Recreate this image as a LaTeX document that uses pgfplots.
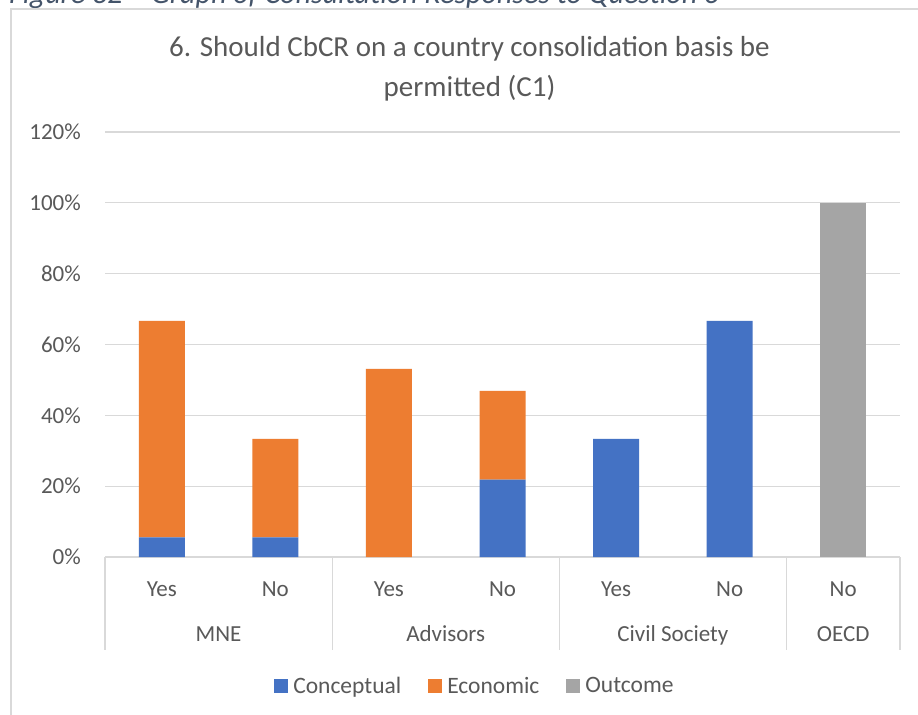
\documentclass[border=0pt]{standalone}
\usepackage{pgfplots}
\usepackage{pgfplotstable}
\pgfplotsset{compat=1.18}
\usepackage{fontspec}
\setmainfont{Carlito}

\definecolor{conc}{HTML}{4472C4}
\definecolor{econ}{HTML}{ED7D31}
\definecolor{outc}{HTML}{A5A5A5}
\definecolor{txt}{HTML}{595959}
\definecolor{gridc}{HTML}{D9D9D9}
\definecolor{capt}{HTML}{44546A}

% share of responses (%) per respondent group and answer
\pgfplotstableread{
x conc econ outc
0 5.56 61.11 0
1 5.56 27.78 0
2 0 53.13 0
3 21.88 25.00 0
4 33.33 0 0
5 66.67 0 0
6 0 0 100
}\responses

\pgfplotsset{sqlegend/.style={legend image code/.code={\path[##1,draw=none] (0bp,-7bp) rectangle (14bp,7bp);}}}

\begin{document}
\begin{tikzpicture}
\useasboundingbox (0,0) rectangle (918bp,715bp);
\clip (0,0) rectangle (918bp,715bp);
\fill[white] (0,0) rectangle (918bp,715bp);
% figure caption
\node[anchor=base west, inner sep=0pt, font=\fontsize{30bp}{35bp}\selectfont\itshape, text=capt]
  at (9bp,711bp) {Figure 32 – Graph of Consultation Responses to Question 6};
% chart frame
\fill[white] (11bp,-10bp) rectangle (960bp,706bp);
\draw[gridc, line width=1.2bp] (11bp,-10bp) -- (11bp,706bp) -- (960bp,706bp);
% chart title
\node[anchor=base, inner sep=0pt, font=\fontsize{29bp}{34bp}\selectfont, text=txt]
  at (469.5bp,658bp) {6. Should CbCR on a country consolidation basis be};
\node[anchor=base, inner sep=0pt, font=\fontsize{29bp}{34bp}\selectfont, text=txt]
  at (469.5bp,618bp) {permitted (C1)};

\begin{axis}[
  at={(105bp,158bp)}, anchor=south west,
  scale only axis, width=795bp, height=425bp,
  ybar stacked, bar width=0.405,
  xmin=-0.5, xmax=6.5, ymin=0, ymax=120,
  xtick={0,...,6}, xticklabels={Yes,No,Yes,No,Yes,No,No},
  ytick={0,20,...,120},
  /pgf/number format/assume math mode=true,
  yticklabel={\pgfmathprintnumber{\tick}\%},
  ymajorgrids, grid style={draw=gridc, line width=1.2bp},
  axis x line*=bottom, axis y line*=left,
  x axis line style={draw=gridc, line width=1.2bp, -},
  y axis line style={draw=none},
  major tick length=0pt, tick style={draw=none},
  ticklabel style={font=\fontsize{23bp}{27bp}\selectfont, text=txt, inner sep=0pt},
  yticklabel style={anchor=east, xshift=-24bp},
  xticklabel style={anchor=base, yshift=-39bp},
  clip=false,
  legend columns=-1,
  legend style={at={(0.464,-0.3035)}, anchor=center, draw=none, fill=none,
    font=\fontsize{23.5bp}{27bp}\selectfont, text=txt,
    nodes={inner sep=0pt},
    /tikz/every odd column/.append style={column sep=5bp},
    /tikz/every even column/.append style={column sep=27bp}},
]
\addplot[fill=conc, draw=none, sqlegend] table[x=x, y=conc] {\responses};
\addplot[fill=econ, draw=none, sqlegend] table[x=x, y=econ] {\responses};
\addplot[fill=outc, draw=none, sqlegend] table[x=x, y=outc] {\responses};
\legend{Conceptual, Economic, Outcome}

% group separators and group names
\foreach \s in {-0.5,1.5,3.5,5.5,6.5}{
  \edef\tmp{\noexpand\draw[gridc, line width=1.2bp] (axis cs:\s,0) -- ++(0bp,-93bp);}\tmp
}
\foreach \g/\c in {MNE/0.5, Advisors/2.5, Civil Society/4.5, OECD/6}{
  \edef\tmp{\noexpand\node[anchor=base, inner sep=0pt, font=\noexpand\fontsize{23bp}{27bp}\noexpand\selectfont, text=txt] at (axis cs:\c,0) [yshift=-84bp] {\g};}\tmp
}
\end{axis}
\end{tikzpicture}
\end{document}
